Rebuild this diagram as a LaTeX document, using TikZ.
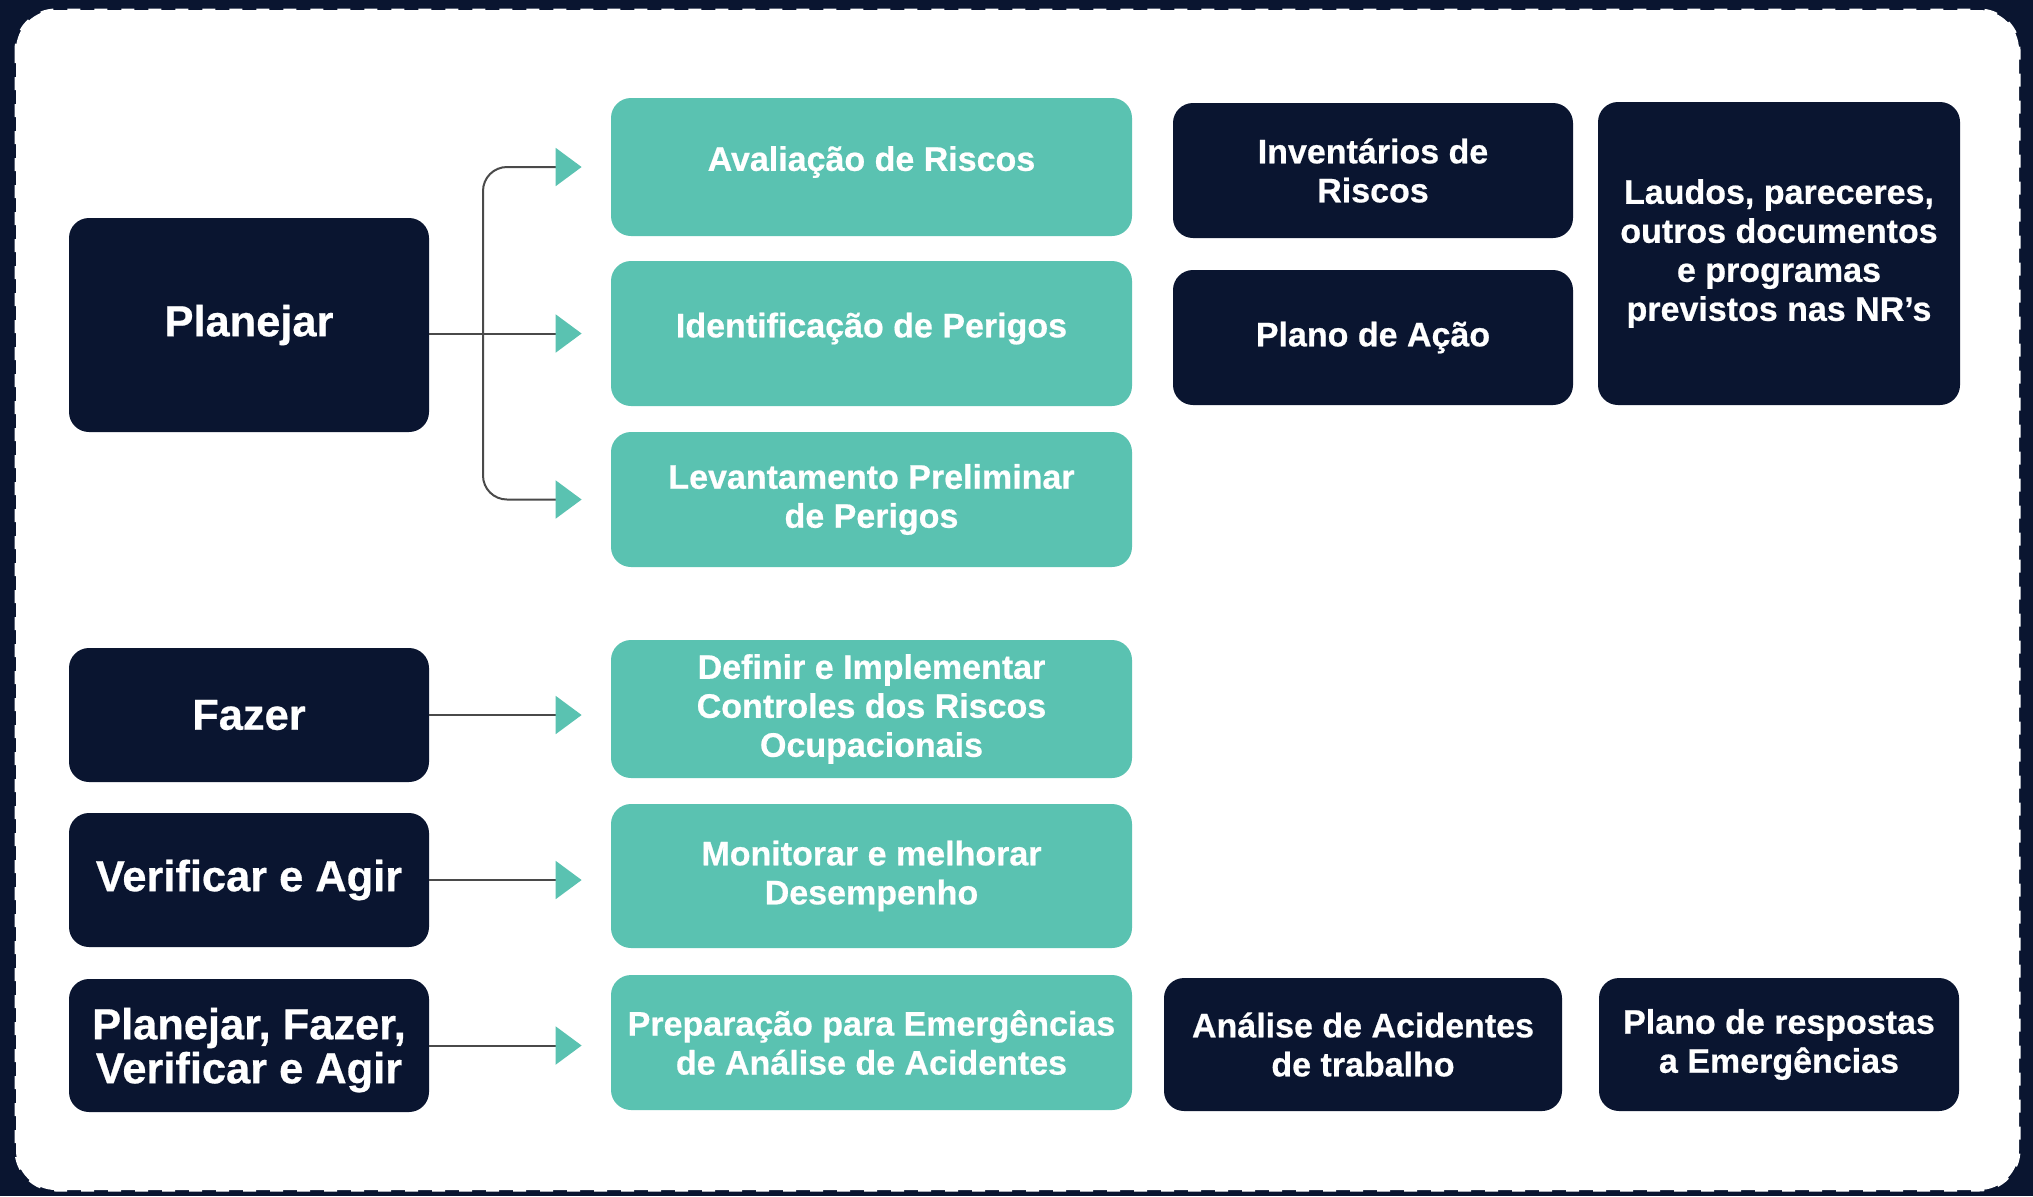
\documentclass[tikz,border=0pt]{standalone}
\usepackage{fontspec}
\setmainfont[BoldFeatures={FakeBold=0.6}]{Liberation Sans}
\usetikzlibrary{arrows.meta,calc}
\definecolor{navy}{HTML}{0A1530}
\definecolor{tealc}{HTML}{5AC2B1}
\definecolor{linec}{HTML}{4A4A4A}
\begin{document}
\begin{tikzpicture}[x=0.5pt,y=-0.5pt,
  box/.style={rounded corners=10pt, inner sep=0pt, align=center, text=white,
    font=\bfseries\fontsize{17}{19.5}\selectfont},
  navybox/.style={box, fill=navy},
  tealbox/.style={box, fill=tealc, minimum width=260.5pt},
  bigtext/.style={font=\bfseries\fontsize{21.7}{22}\selectfont},
  leftbox/.style={navybox, bigtext, minimum width=180pt},
  conn/.style={draw=linec, line width=1pt,
    -{Triangle[length=13pt,width=19pt,color=tealc]}, shorten >=14.5pt},
]
\useasboundingbox (0,0) rectangle (2033,1196);
\fill[navy] (0,0) rectangle (2033,1196);
\fill[white, rounded corners=20pt] (16,10) rectangle (2019,1190);
\draw[white, line width=1.5pt, dash pattern=on 6.5pt off 7pt, rounded corners=20pt] (16,10) rectangle (2019,1190);

% left column
\node[leftbox, minimum height=107pt] (plan) at (249,325) {Planejar};
\node[leftbox, minimum height=67pt] (fazer) at (249,715) {Fazer};
\node[leftbox, minimum height=67pt] (verif) at (249,880) {Verificar e Agir};
\node[leftbox, minimum height=66.5pt, text depth=0pt] (pfva) at (249,1045.5) {Planejar, Fazer,\\Verificar e Agir};

% teal column
\node[tealbox, minimum height=69pt, text depth=8.5pt] (aval) at (871.5,167) {Avaliação de Riscos};
\node[tealbox, minimum height=72.5pt, text depth=8.5pt] (ident) at (871.5,333.5) {Identificação de Perigos};
\node[tealbox, minimum height=67.5pt] (lev) at (871.5,499.5) {Levantamento Preliminar\\de Perigos};
\node[tealbox, minimum height=69pt] (def) at (871.5,709) {Definir e Implementar\\Controles dos Riscos\\Ocupacionais};
\node[tealbox, minimum height=72pt] (mon) at (871.5,876) {Monitorar e melhorar\\Desempenho};
\node[tealbox, minimum height=67.5pt] (prep) at (871.5,1042.5) {Preparação para Emergências\\de Análise de Acidentes};

% right boxes
\node[navybox, minimum width=200pt, minimum height=67.5pt] (inv) at (1373,170.5) {Inventários de\\Riscos};
\node[navybox, minimum width=200pt, minimum height=67.5pt] (plac) at (1373,337.5) {Plano de Ação};
\node[navybox, minimum width=181pt, minimum height=151.5pt] (laudos) at (1779,253.5) {Laudos, pareceres,\\outros documentos\\e programas\\previstos nas NR’s};
\node[navybox, minimum width=199pt, minimum height=66.5pt] (anal) at (1363,1044.5) {Análise de Acidentes\\de trabalho};
\node[navybox, minimum width=180pt, minimum height=66.5pt] (resp) at (1779,1044.5) {Plano de respostas\\a Emergências};

% connectors
\coordinate (br) at (483,333.5);
\draw[conn] (plan.east |- ident.west) -- (ident.west);
\draw[conn, rounded corners=12pt] (br) |- (aval.west);
\draw[conn, rounded corners=12pt] (br) |- (lev.west);
\draw[conn] (fazer.east) -- (fazer.east -| def.west);
\draw[conn] (verif.east) -- (verif.east -| mon.west);
\draw[conn] (pfva.east) -- (pfva.east -| prep.west);
\end{tikzpicture}
\end{document}
